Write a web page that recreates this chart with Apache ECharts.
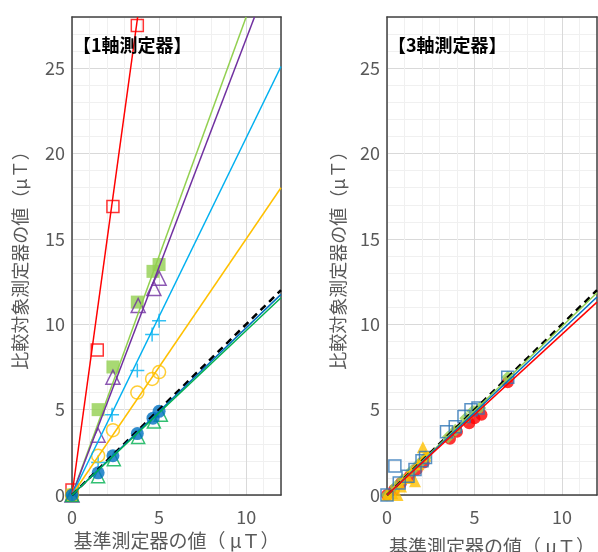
<!DOCTYPE html>
<html>
<head>
<meta charset="utf-8">
<script src="https://cdn.jsdelivr.net/npm/echarts@6.0.0/dist/echarts.min.js"></script>
<style>
    html, body { margin: 0; padding: 0; background: #fff; }
    #chart { width: 598px; height: 552px; }
</style>
</head>
<body>
<div id="chart"></div>
<script>
// 比較対象測定器 vs 基準測定器 (μT)
const X_MAX = 12;
const Y_MAX = 28;
const LABEL_STEP = 5;

// 【1軸測定器】 measured points
const oneRed = [[0, 0.3], [1.45, 8.5], [2.35, 16.9], [3.75, 27.5]];
const oneLime = [[0, 0], [1.5, 5.0], [2.35, 7.5], [3.75, 11.3], [4.65, 13.1], [5.0, 13.5]];
const onePurple = [[0, 0], [1.5, 3.5], [2.35, 6.9], [3.8, 11.1], [4.7, 12.1], [5.0, 12.7]];
const oneSky = [[0, 0], [1.5, 1.9], [2.3, 4.7], [3.75, 7.3], [4.6, 9.4], [5.0, 10.2]];
const oneOrange = [[0, 0], [1.5, 2.3], [2.35, 3.8], [3.75, 6.0], [4.6, 6.8], [5.0, 7.2]];
const oneNavy = [[0, 0], [1.5, 1.3], [2.35, 2.3], [3.75, 3.6], [4.65, 4.5], [5.0, 4.9]];
const oneGreen = [[0, 0], [1.5, 1.1], [2.4, 2.1], [3.8, 3.4], [4.7, 4.3], [5.1, 4.7]];

// 【1軸測定器】 trend lines (end points)
const oneRedFit = [[0, 0], [3.77, 28]];
const oneLimeFit = [[0, 0], [10.0, 28]];
const onePurpleFit = [[0, 0], [10.48, 28]];
const oneSkyFit = [[0, 0], [12, 25.1]];
const oneOrangeFit = [[0, 0], [12, 18.0]];
const oneNavyFit = [[0, 0], [12, 11.75]];
const oneGreenFit = [[0, 0], [12, 11.55]];

// 【3軸測定器】 measured points
const threeRed = [[0, 0], [0.4, 0.3], [0.8, 0.7], [1.3, 1.1], [1.7, 1.5], [2.1, 1.9], [3.6, 3.3], [4.0, 3.7], [4.7, 4.2], [5.0, 4.5], [5.4, 4.7], [6.9, 6.6]];
const threeLime = [[0, 0], [0.5, 0.5], [0.9, 0.9], [1.4, 1.4], [1.8, 1.8], [2.2, 2.2], [3.5, 3.4], [3.9, 3.8], [4.5, 4.5], [4.9, 4.9], [5.3, 5.1], [6.9, 6.9]];
const threeBlue = [[0, 0], [0.45, 1.7], [0.7, 0.7], [1.2, 1.1], [1.6, 1.5], [2.0, 2.0], [2.2, 2.2], [3.4, 3.7], [3.9, 4.0], [4.4, 4.6], [4.8, 5.0], [5.2, 5.1], [6.9, 6.9]];
const threeYellow = [[0, 0], [0.3, 0.1], [0.6, 0.0], [0.8, 0.5], [1.2, 1.0], [1.6, 0.8], [1.8, 1.8], [2.05, 2.8], [2.2, 2.3]];

// 【3軸測定器】 trend lines
const threeLimeFit = [[0, 0], [12, 11.85]];
const threeBlueFit = [[0, 0], [12, 11.6]];
const threeRedFit = [[0, 0], [12, 11.3]];
const threeYellowFit = [[0, 0], [2.4, 2.5]];

// y = x
const refLine = [[0, 0], [12, 12]];

const TEXT = '#595959';
const FRAME = '#404040';
const FONT = '"Noto Sans CJK JP", "Noto Sans", sans-serif';
const GRID_COLORS = ['#D9D9D9', '#F0F0F0', '#F0F0F0', '#F0F0F0', '#F0F0F0'];
const PLUS = 'path://M0,5 L10,5 M5,0 L5,10';

const chart = echarts.init(document.getElementById('chart'));

const tickLabel = v => (v % LABEL_STEP === 0 ? String(v) : '');

function mainX(gridIndex, nameGap) {
    return {
        gridIndex, type: 'value', min: 0, max: X_MAX, interval: 1,
        name: '基準測定器の値（ μＴ）', nameLocation: 'middle', nameGap,
        nameTextStyle: { color: TEXT, fontSize: 19, fontFamily: FONT },
        axisLine: { show: true, onZero: false, lineStyle: { color: FRAME, width: 1.5 } },
        axisTick: { show: false },
        axisLabel: { color: TEXT, fontSize: 18, fontFamily: FONT, margin: 13, formatter: tickLabel },
        splitLine: { lineStyle: { color: GRID_COLORS, width: 1 } }
    };
}

function mainY(gridIndex, nameGap) {
    return {
        gridIndex, type: 'value', min: 0, max: Y_MAX, interval: 1,
        name: '比較対象測定器の値（μＴ）', nameLocation: 'middle', nameGap,
        nameTextStyle: { color: TEXT, fontSize: 18, fontFamily: FONT },
        axisLine: { show: true, onZero: false, lineStyle: { color: FRAME, width: 1.5 } },
        axisTick: { show: false },
        axisLabel: { color: TEXT, fontSize: 18, fontFamily: FONT, margin: 7, formatter: tickLabel },
        splitLine: { lineStyle: { color: GRID_COLORS, width: 1 } }
    };
}

// top / right frame edges
function edge(gridIndex, position, isX) {
    return {
        gridIndex, type: 'value', position,
        min: 0, max: isX ? X_MAX : Y_MAX,
        axisLine: { show: true, onZero: false, lineStyle: { color: FRAME, width: 1.5 } },
        axisTick: { show: false }, axisLabel: { show: false }, splitLine: { show: false }
    };
}

function dots(name, data, xi, symbol, size, color, filled) {
    return {
        name, type: 'scatter', xAxisIndex: xi, yAxisIndex: xi, data, symbol, symbolSize: size,
        itemStyle: filled
            ? { color }
            : { color: 'rgba(0,0,0,0)', borderColor: color, borderWidth: 1.5 },
        z: 3
    };
}

function fit(data, xi, color, width, dashed) {
    return {
        type: 'line', xAxisIndex: xi, yAxisIndex: xi, data, symbol: 'none',
        lineStyle: { color, width: width || 1.5, type: dashed ? [7, 5] : 'solid' },
        z: 4
    };
}

const titleStyle = { color: '#000', fontSize: 18, fontWeight: 'bold', fontFamily: FONT };

const option = {
    animation: false,
    backgroundColor: '#fff',
    textStyle: { fontFamily: FONT },
    title: [
        { text: '【1軸測定器】', left: 73, top: 36, padding: 0, textStyle: titleStyle },
        { text: '【3軸測定器】', left: 388, top: 36, padding: 0, textStyle: titleStyle }
    ],
    grid: [
        { left: 72, top: 17, width: 209, height: 478, outerBoundsMode: 'none' },
        { left: 387, top: 17, width: 210, height: 478, outerBoundsMode: 'none' }
    ],
    xAxis: [mainX(0, 36), mainX(1, 42), edge(0, 'top', true), edge(1, 'top', true)],
    yAxis: [mainY(0, 43), mainY(1, 40), edge(0, 'right', false), edge(1, 'right', false)],
    series: [
        dots('oneRed', oneRed, 0, 'rect', 12, '#FF0000', false),
        dots('oneLime', oneLime, 0, 'rect', 13, '#92D050', true),
        dots('onePurple', onePurple, 0, 'triangle', 14, '#7030A0', false),
        dots('oneSky', oneSky, 0, PLUS, 14, '#00B0F0', false),
        dots('oneOrange', oneOrange, 0, 'circle', 13, '#FFC000', false),
        dots('oneGreen', oneGreen, 0, 'triangle', 13, '#00B050', false),
        dots('oneNavy', oneNavy, 0, 'circle', 13, '#0070C0', true),
        fit(oneRedFit, 0, '#FF0000'),
        fit(oneLimeFit, 0, '#92D050'),
        fit(onePurpleFit, 0, '#7030A0'),
        fit(oneSkyFit, 0, '#00B0F0'),
        fit(oneOrangeFit, 0, '#FFC000'),
        fit(refLine, 0, '#000', 2.5, true),
        fit(oneNavyFit, 0, '#0070C0'),
        fit(oneGreenFit, 0, '#00B050'),

        dots('threeRed', threeRed, 1, 'circle', 12, '#FF0000', true),
        dots('threeLime', threeLime, 1, 'diamond', 13, '#92D050', true),
        dots('threeYellow', threeYellow, 1, 'triangle', 12, '#FFC000', true),
        dots('threeBlue', threeBlue, 1, 'rect', 12, '#2E75B6', false),
        fit(threeYellowFit, 1, '#FFC000', 3),
        fit(refLine, 1, '#000', 2.5, true),
        fit(threeLimeFit, 1, '#92D050'),
        fit(threeBlueFit, 1, '#0070C0'),
        fit(threeRedFit, 1, '#FF0000')
    ]
};

chart.setOption(option);
</script>
</body>
</html>
